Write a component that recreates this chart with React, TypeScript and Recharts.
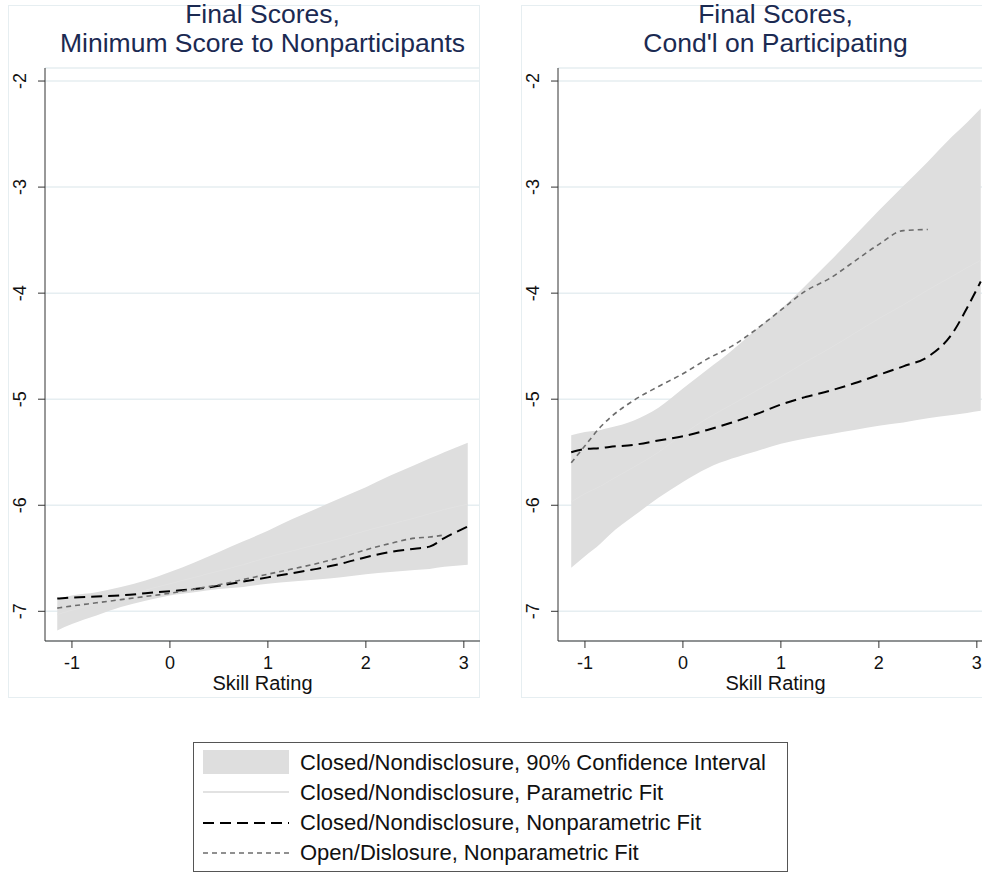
import React from "react";
import { ComposedChart, Area, Line, XAxis, YAxis, CartesianGrid } from "recharts";

/* x positions (Skill Rating) sampled along each panel */
const LEFT_X = [-1.15, -1, -0.75, -0.5, -0.25, 0, 0.25, 0.5, 0.75, 1, 1.25, 1.5, 1.75, 2, 2.25, 2.5, 2.65, 2.8, 3.04];
const LEFT_CI_LO = [-7.18, -7.12, -7.04, -6.96, -6.9, -6.85, -6.82, -6.79, -6.77, -6.74, -6.72, -6.7, -6.68, -6.65, -6.63, -6.61, -6.6, -6.58, -6.56];
const LEFT_CI_HI = [-6.88, -6.85, -6.82, -6.77, -6.71, -6.63, -6.54, -6.44, -6.34, -6.24, -6.13, -6.03, -5.93, -5.83, -5.72, -5.62, -5.56, -5.5, -5.41];
const LEFT_FIT = [-7.03, -6.99, -6.93, -6.87, -6.8, -6.74, -6.68, -6.62, -6.56, -6.49, -6.43, -6.37, -6.31, -6.24, -6.18, -6.12, -6.08, -6.04, -5.99];
const LEFT_CLOSED_NP = [-6.88, -6.87, -6.86, -6.85, -6.83, -6.81, -6.79, -6.76, -6.72, -6.68, -6.64, -6.6, -6.55, -6.49, -6.44, -6.41, -6.39, -6.31, -6.2];
const LEFT_OPEN_NP = [-6.97, -6.95, -6.92, -6.89, -6.86, -6.83, -6.79, -6.75, -6.7, -6.65, -6.6, -6.55, -6.49, -6.42, -6.36, -6.31, -6.3, -6.28, null];

const RIGHT_X = [-1.14, -1, -0.84, -0.75, -0.5, -0.25, 0, 0.25, 0.5, 0.75, 1, 1.25, 1.5, 1.75, 2, 2.25, 2.5, 2.75, 2.9, 3.04];
const RIGHT_CI_LO = [-6.59, -6.48, -6.36, -6.28, -6.1, -5.93, -5.78, -5.65, -5.56, -5.49, -5.42, -5.37, -5.33, -5.29, -5.25, -5.22, -5.18, -5.15, -5.13, -5.11];
const RIGHT_CI_HI = [-5.34, -5.31, -5.29, -5.27, -5.2, -5.08, -4.9, -4.72, -4.54, -4.34, -4.15, -3.93, -3.7, -3.46, -3.22, -2.99, -2.76, -2.52, -2.39, -2.26];
const RIGHT_FIT = [-5.97, -5.89, -5.82, -5.77, -5.64, -5.5, -5.33, -5.18, -5.05, -4.92, -4.79, -4.65, -4.52, -4.38, -4.24, -4.11, -3.97, -3.84, -3.76, -3.69];
const RIGHT_CLOSED_NP = [-5.5, -5.47, -5.46, -5.45, -5.43, -5.39, -5.35, -5.29, -5.22, -5.14, -5.05, -4.98, -4.92, -4.85, -4.77, -4.69, -4.6, -4.38, -4.14, -3.89];
const RIGHT_OPEN_NP = [-5.6, -5.44, -5.26, -5.18, -5.01, -4.88, -4.76, -4.62, -4.5, -4.34, -4.16, -3.98, -3.86, -3.7, -3.54, -3.41, -3.4, null, null, null];

const X_TICKS = [-1, 0, 1, 2, 3];
const Y_TICKS = [-7, -6, -5, -4, -3, -2];

const LEFT_TITLE = ["Final Scores,", "Minimum Score to Nonparticipants"];
const RIGHT_TITLE = ["Final Scores,", "Cond'l on Participating"];

const LEGEND_LABELS = [
  "Closed/Nondisclosure, 90% Confidence Interval",
  "Closed/Nondisclosure, Parametric Fit",
  "Closed/Nondisclosure, Nonparametric Fit",
  "Open/Dislosure, Nonparametric Fit",
];

const FONT = "'Liberation Sans', Arial, Helvetica, sans-serif";
const BAND = "#dedede";
const GRID = "#e6eef1";
const TITLE_COLOR = "#1b2a52";

const PANEL_W = 472;
const PANEL_H = 693;

function buildRows(xs: number[], lo: number[], hi: number[], fit: number[], closed: (number | null)[], open: (number | null)[]) {
  return xs.map((x, i) => ({
    x,
    band: [lo[i], hi[i]],
    fit: fit[i],
    closed: closed[i],
    open: open[i],
  }));
}

const leftRows = buildRows(LEFT_X, LEFT_CI_LO, LEFT_CI_HI, LEFT_FIT, LEFT_CLOSED_NP, LEFT_OPEN_NP);
const rightRows = buildRows(RIGHT_X, RIGHT_CI_LO, RIGHT_CI_HI, RIGHT_FIT, RIGHT_CLOSED_NP, RIGHT_OPEN_NP);

/* rotated y tick labels, Stata style */
function YTick(props: any) {
  const { x, y, payload } = props;
  const cx = x - 16;
  return (
    <text
      x={cx}
      y={y}
      dy="0.36em"
      transform={`rotate(-90 ${cx} ${y})`}
      textAnchor="middle"
      fontSize={18}
      fontFamily={FONT}
      fill="#111"
    >
      {payload.value}
    </text>
  );
}

function Panel({ left, title, rows }: { left: number; title: string[]; rows: any[] }) {
  return (
    <div style={{ position: "absolute", left, top: 5, width: PANEL_W, height: PANEL_H }}>
      <div
        style={{
          position: "absolute",
          inset: 0,
          border: `1px solid ${GRID}`,
          boxSizing: "border-box",
        }}
      />
      <div
        style={{
          position: "absolute",
          left: 37,
          width: 435,
          top: -5,
          textAlign: "center",
          fontFamily: FONT,
          fontSize: 26.5,
          lineHeight: "29px",
          color: TITLE_COLOR,
          whiteSpace: "nowrap",
        }}
      >
        {title.map((t) => (
          <div key={t}>{t}</div>
        ))}
      </div>
      <ComposedChart
        width={PANEL_W}
        height={PANEL_H}
        data={rows}
        margin={{ top: 63, right: 0, bottom: 0, left: 0 }}
        style={{ position: "absolute", left: 0, top: 0 }}
      >
        <CartesianGrid vertical={false} stroke={GRID} strokeWidth={1.5} />
        <XAxis
          dataKey="x"
          type="number"
          domain={[-1.275, 3.165]}
          ticks={X_TICKS}
          allowDataOverflow
          height={57}
          stroke="#333"
          tickSize={7}
          tickMargin={8}
          tick={{ fontSize: 18, fontFamily: FONT, fill: "#111" }}
          label={{
            value: "Skill Rating",
            position: "insideBottom",
            offset: 8,
            fontSize: 20,
            fontFamily: FONT,
            fill: "#111",
          }}
        />
        <YAxis
          type="number"
          domain={[-7.28, -1.877]}
          ticks={Y_TICKS}
          allowDataOverflow
          width={37}
          stroke="#333"
          tickSize={7}
          tickMargin={2}
          tick={<YTick />}
        />
        {/* parametric fit sits under the band, so it is hidden like in the original */}
        <Line dataKey="fit" type="monotone" stroke="#e2e2e2" strokeWidth={1} dot={false} isAnimationActive={false} />
        <Area
          dataKey="band"
          type="monotone"
          stroke="none"
          fill={BAND}
          fillOpacity={1}
          isAnimationActive={false}
        />
        <Line
          dataKey="closed"
          type="monotone"
          stroke="#000"
          strokeWidth={2}
          strokeDasharray="11 6"
          dot={false}
          isAnimationActive={false}
        />
        <Line
          dataKey="open"
          type="monotone"
          stroke="#6c6c6c"
          strokeWidth={1.6}
          strokeDasharray="5 4"
          dot={false}
          isAnimationActive={false}
        />
      </ComposedChart>
    </div>
  );
}

function LegendBox() {
  const rowH = 30;
  return (
    <div
      style={{
        position: "absolute",
        left: 193,
        top: 742,
        width: 595,
        height: 130,
        border: "1px solid #555",
        boxSizing: "border-box",
        background: "#fff",
      }}
    >
      <svg width={100} height={128} style={{ position: "absolute", left: 0, top: 0 }}>
        <rect x={9} y={7} width={86} height={24} fill={BAND} />
        <line x1={9} x2={95} y1={49} y2={49} stroke="#e2e2e2" strokeWidth={2} />
        <line x1={9} x2={95} y1={80} y2={80} stroke="#000" strokeWidth={2} strokeDasharray="11 6" />
        <line x1={9} x2={95} y1={110} y2={110} stroke="#6c6c6c" strokeWidth={1.5} strokeDasharray="5 4" />
      </svg>
      {LEGEND_LABELS.map((l, i) => (
        <div
          key={l}
          style={{
            position: "absolute",
            left: 106,
            top: 5 + i * rowH,
            height: rowH,
            lineHeight: `${rowH}px`,
            fontFamily: FONT,
            fontSize: 22,
            color: "#111",
            whiteSpace: "nowrap",
          }}
        >
          {l}
        </div>
      ))}
    </div>
  );
}

export default function App() {
  return (
    <div
      style={{
        position: "absolute",
        left: 0,
        top: 0,
        width: 982,
        height: 875,
        overflow: "hidden",
        background: "#fff",
      }}
    >
      <Panel left={8} title={LEFT_TITLE} rows={leftRows} />
      <Panel left={521} title={RIGHT_TITLE} rows={rightRows} />
      <LegendBox />
    </div>
  );
}
